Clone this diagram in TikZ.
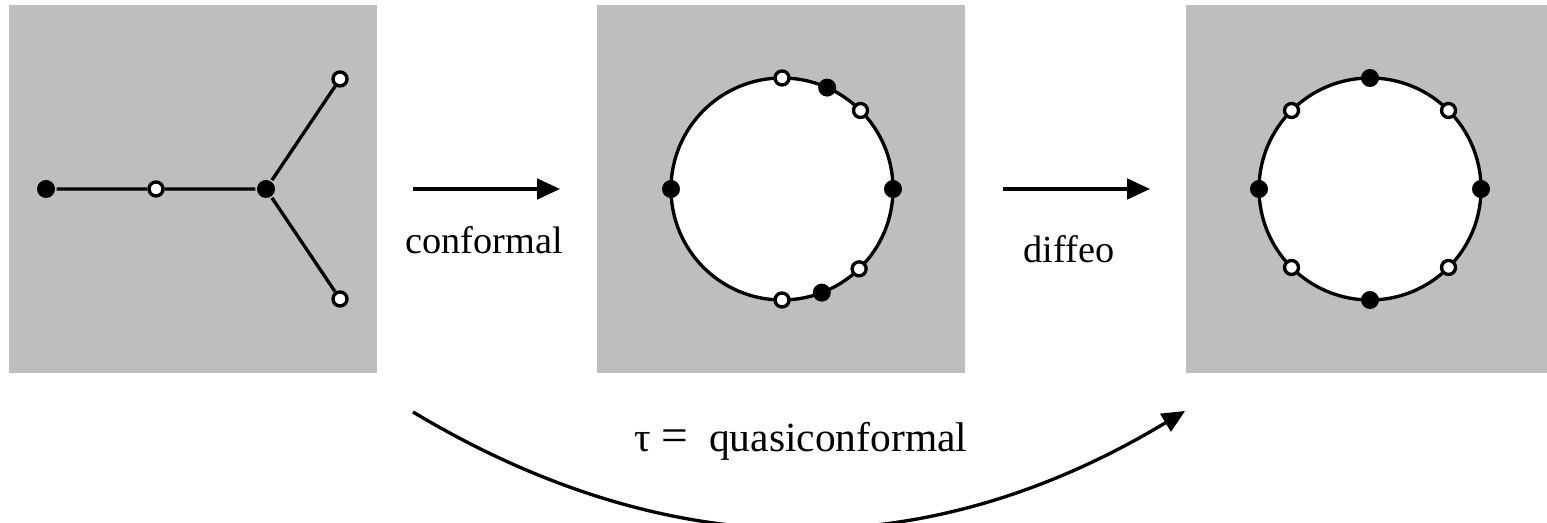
\documentclass[tikz,border=0pt]{standalone}
\usepackage{fontspec}
\setmainfont{Liberation Serif}
\usetikzlibrary{arrows.meta}
\definecolor{panelgray}{RGB}{190,190,190}
\begin{document}
\begin{tikzpicture}[>={Triangle[length=6.5pt,width=5.8pt]}, x=0.1mm, y=0.1mm, line width=0.95pt,
  panel/.style={fill=panelgray, minimum size=36.8mm, inner sep=0},
  ring/.style={circle, draw, fill=white, minimum size=22.2mm, inner sep=0, outer sep=0},
  bdot/.style={circle, fill=black, minimum size=1.8mm, inner sep=0},
  wdot/.style={circle, draw, fill=white, minimum size=1.4mm, inner sep=0},
  lbl/.style={anchor=base, font=\fontsize{10.9}{13}\selectfont}]
\useasboundingbox (0,0) rectangle (1547,523);
\node[panel] (p1) at (193,334) {};
\node[panel] (p2) at (781,334) {};
\node[panel] (p3) at (1370,334) {};
\node[bdot] (a) at (46,334) {};
\node[wdot] (b) at (156,334) {};
\node[bdot] (c) at (266,334) {};
\node[wdot] (d) at (340,444) {};
\node[wdot] (e) at (340,224) {};
\draw (a)--(b)--(c)--(d) (c)--(e);
\node[ring] (r1) at (782,334) {};
\foreach \a/\s [count=\i] in {90/wdot,66/bdot,45/wdot,0/bdot,180/bdot,-46/wdot,-69/bdot,-90/wdot}
  \node[\s] (m\i) at (r1.\a) {};
\node[ring] (r2) at (1370,334) {};
\foreach \a/\s [count=\i] in {0/bdot,45/wdot,90/bdot,135/wdot,180/bdot,225/wdot,270/bdot,315/wdot}
  \node[\s] (n\i) at (r2.\a) {};
\coordinate (s1) at (413,334);
\coordinate (e1) at (560,334);
\coordinate (s2) at (1003,334);
\coordinate (e2) at (1150,334);
\draw[->] (s1)--(e1);
\draw[->] (s2)--(e2);
\node[lbl] (lc) at (484,269) {conformal};
\node[lbl] (ld) at (1069,260) {diffeo};
\coordinate (qs) at (413,111);
\coordinate (qe) at (1185,112);
\draw[->] (qs) to[bend right=31] (qe);
\node[lbl, anchor=base west, inner sep=0, font=\fontsize{11.8}{14}\selectfont] (lq) at (633,71) {τ {\fontsize{13.5}{14}\selectfont =}\ \ quasiconformal};
\end{tikzpicture}
\end{document}
